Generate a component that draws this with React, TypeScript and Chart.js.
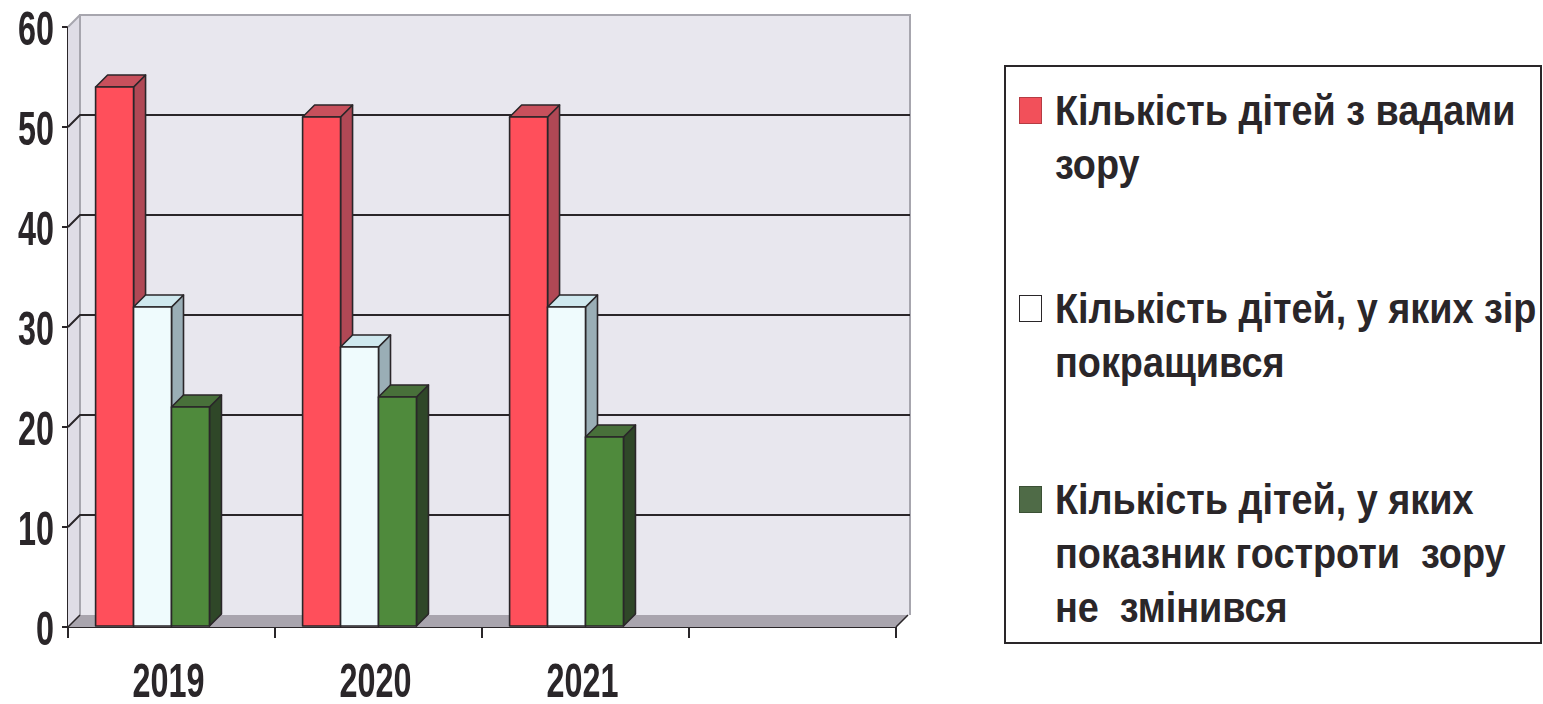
import React, { useEffect, useRef } from 'react';
import { Chart, registerables } from 'chart.js';

Chart.register(...registerables);

// ---- data ----
const categories = ['2019', '2020', '2021', ''];
const seriesLabels = [
  'Кількість дітей з вадами\nзору',
  'Кількість дітей, у яких зір\nпокращився',
  'Кількість дітей, у яких\nпоказник гостроти  зору\nне  змінився',
];
const visionDefects = [54, 51, 51, null];
const visionImproved = [32, 28, 32, null];
const visionUnchanged = [22, 23, 19, null];
const yMin = 0;
const yMax = 60;
const yStep = 10;

// ---- styles ----
const FONT = "'Liberation Sans', Arial, sans-serif";
const TICK_SIZE = 49;
const TICK_SCALE_X = 0.66;
const LEGEND_SIZE = 42;
const LEGEND_SCALE_X = 0.9;
const DX = 12;
const DY = -12;
const faceColors = [
  { front: '#ff4f5b', side: '#b04855', top: '#c8505c', legend: '#f2505a' },
  { front: '#effbfd', side: '#9aaeb6', top: '#cfe8ee', legend: '#ffffff' },
  { front: '#4f8a3c', side: '#2f4728', top: '#48703a', legend: '#4f6b47' },
];
const INK = '#2a2629';

function drawNarrow(ctx: any, text: string, x: number, baseline: number, align: string) {
  ctx.save();
  ctx.translate(x, baseline);
  ctx.scale(TICK_SCALE_X, 1);
  ctx.textAlign = align;
  ctx.textBaseline = 'alphabetic';
  ctx.fillText(text, 0, 0);
  ctx.restore();
}

const threeD = {
  id: 'threeD',
  beforeDatasetsDraw(chart: any) {
    const { ctx, chartArea, scales } = chart;
    const { left, right, top, bottom } = chartArea;
    const y = scales.y;
    ctx.save();
    ctx.fillStyle = '#e8e7ee';
    ctx.fillRect(left + DX, top + DY, right - left + 2, bottom - top);
    ctx.fillStyle = '#dfdde6';
    ctx.beginPath();
    ctx.moveTo(left, top);
    ctx.lineTo(left + DX, top + DY);
    ctx.lineTo(left + DX, bottom + DY);
    ctx.lineTo(left, bottom);
    ctx.closePath();
    ctx.fill();
    ctx.fillStyle = '#a9a5ae';
    ctx.beginPath();
    ctx.moveTo(left, bottom);
    ctx.lineTo(right, bottom);
    ctx.lineTo(right + DX, bottom + DY);
    ctx.lineTo(left + DX, bottom + DY);
    ctx.closePath();
    ctx.fill();
    ctx.strokeStyle = '#a7a6ae';
    ctx.lineWidth = 2;
    ctx.beginPath();
    ctx.moveTo(left + DX, bottom + DY);
    ctx.lineTo(left + DX, top + DY);
    ctx.lineTo(right + DX + 2, top + DY);
    ctx.lineTo(right + DX + 2, bottom + DY);
    ctx.stroke();
    ctx.beginPath();
    ctx.moveTo(left, top);
    ctx.lineTo(left + DX, top + DY);
    ctx.stroke();
    y.ticks.forEach((t: any) => {
      const v = t.value;
      if (v === yMin || v === yMax) return;
      const py = y.getPixelForValue(v);
      ctx.strokeStyle = INK;
      ctx.lineWidth = 2;
      ctx.beginPath();
      ctx.moveTo(left, py);
      ctx.lineTo(left + DX, py + DY);
      ctx.lineTo(right + DX + 2, py + DY);
      ctx.stroke();
    });
    ctx.strokeStyle = INK;
    ctx.lineWidth = 1.5;
    ctx.beginPath();
    ctx.moveTo(left, bottom);
    ctx.lineTo(left + DX, bottom + DY);
    ctx.moveTo(right, bottom);
    ctx.lineTo(right + DX, bottom + DY);
    ctx.stroke();
    ctx.restore();
  },
  afterDatasetsDraw(chart: any) {
    const { ctx } = chart;
    ctx.save();
    ctx.lineJoin = 'round';
    ctx.strokeStyle = INK;
    ctx.lineWidth = 1.6;
    const n = chart.data.labels.length;
    for (let i = 0; i < n; i++) {
      chart.data.datasets.forEach((ds: any, d: number) => {
        const v = ds.data[i];
        if (v === null || v === undefined) return;
        const el = chart.getDatasetMeta(d).data[i];
        const p = el.getProps(['x', 'y', 'base', 'width'], true);
        const w = p.width;
        const x0 = p.x - w;
        const x1 = x0 + w;
        const yt = p.y;
        const yb = p.base;
        const c = faceColors[d];
        ctx.fillStyle = c.side;
        ctx.beginPath();
        ctx.moveTo(x1, yt);
        ctx.lineTo(x1 + DX, yt + DY);
        ctx.lineTo(x1 + DX, yb + DY);
        ctx.lineTo(x1, yb);
        ctx.closePath();
        ctx.fill();
        ctx.stroke();
        ctx.fillStyle = c.top;
        ctx.beginPath();
        ctx.moveTo(x0, yt);
        ctx.lineTo(x0 + DX, yt + DY);
        ctx.lineTo(x1 + DX, yt + DY);
        ctx.lineTo(x1, yt);
        ctx.closePath();
        ctx.fill();
        ctx.stroke();
        ctx.fillStyle = c.front;
        ctx.fillRect(x0, yt, w, yb - yt);
        ctx.strokeRect(x0, yt, w, yb - yt);
      });
    }
    const { x, y } = chart.scales;
    ctx.fillStyle = INK;
    ctx.font = `bold ${TICK_SIZE}px ${FONT}`;
    const capHalf = TICK_SIZE * 0.358;
    y.ticks.forEach((t: any) => {
      drawNarrow(ctx, String(t.value), chart.chartArea.left - 14, y.getPixelForValue(t.value) + capHalf, 'right');
    });
    chart.data.labels.forEach((lab: string, i: number) => {
      if (!lab) return;
      drawNarrow(ctx, lab, x.getPixelForTick(i) - 3, 697, 'center');
    });
    ctx.restore();
  },
};

export default function App() {
  const ref = useRef<HTMLCanvasElement | null>(null);
  useEffect(() => {
    if (!ref.current) return;
    const chart = new Chart(ref.current, {
      type: 'bar',
      data: {
        labels: categories,
        datasets: [visionDefects, visionImproved, visionUnchanged].map((data, i) => ({
          label: seriesLabels[i],
          data,
          backgroundColor: 'rgba(0,0,0,0)',
          borderWidth: 0,
          barPercentage: 1,
          categoryPercentage: 0.55,
        })),
      },
      options: {
        responsive: false,
        animation: false,
        layout: { padding: { left: 0, top: 27, right: 647, bottom: 0 } },
        plugins: { legend: { display: false }, tooltip: { enabled: false } },
        scales: {
          x: {
            offset: true,
            afterFit: (s: any) => { s.height = 77; },
            grid: { offset: true, drawOnChartArea: false, drawTicks: true, tickLength: 11, color: INK, lineWidth: 2 },
            border: { display: true, color: INK, width: 2 },
            ticks: { display: false },
          },
          y: {
            min: yMin,
            max: yMax,
            afterFit: (s: any) => { s.width = 68; },
            grid: { drawOnChartArea: false, drawTicks: true, tickLength: 6, color: INK, lineWidth: 2 },
            border: { display: true, color: INK, width: 2 },
            ticks: { stepSize: yStep, display: false },
          },
        },
      },
      plugins: [threeD],
    } as any);
    return () => chart.destroy();
  }, []);

  const itemTops = [17, 215, 406];
  return (
    <div style={{ position: 'fixed', left: 0, top: 0, width: 1543, height: 704, background: '#fff' }}>
      <canvas ref={ref} width={1543} height={704} style={{ position: 'absolute', left: 0, top: 0 }} />
      <div
        style={{
          position: 'absolute', left: 1004, top: 65, width: 534, height: 575,
          border: `2px solid ${INK}`, background: '#fff', boxSizing: 'content-box',
        }}
      >
        {seriesLabels.map((label, i) => (
          <div key={i} style={{ position: 'absolute', left: 0, top: itemTops[i], width: 534 }}>
            <div
              style={{
                position: 'absolute', left: 13, top: 13, width: 21, height: 25,
                background: faceColors[i].legend, border: `1.5px solid ${i === 1 ? INK : 'rgba(0,0,0,0.25)'}`,
              }}
            />
            <div
              style={{
                position: 'absolute', left: 49, top: 0, whiteSpace: 'pre',
                fontFamily: FONT, fontWeight: 'bold', fontSize: LEGEND_SIZE, lineHeight: '54px', color: INK,
                transform: `scaleX(${LEGEND_SCALE_X})`, transformOrigin: 'left top',
              }}
            >
              {label}
            </div>
          </div>
        ))}
      </div>
    </div>
  );
}
